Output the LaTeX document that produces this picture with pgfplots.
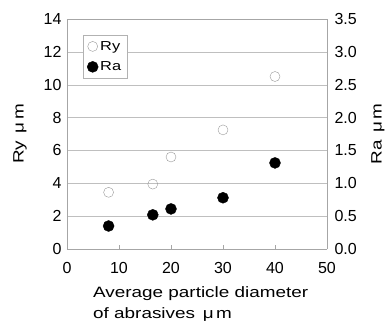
\documentclass[border=0pt]{standalone}
\usepackage{fontspec}
\setmainfont{Liberation Sans}
\newfontfamily\wide[FakeStretch=1.26]{Liberation Sans}
\usepackage{pgfplots}
\pgfplotsset{compat=1.18}
\begin{document}
\begin{tikzpicture}[x=1pt,y=1pt]
\pgfplotsset{
  every axis/.append style={
    scale only axis, width=260pt, height=230pt,
    at={(0,0)}, anchor=south west,
    font=\fontsize{16}{18}\selectfont,
    /pgf/number format/assume math mode=true,
    xmin=0, xmax=50, xtick={0,10,...,50},
    axis line style={gray!70},
    tick style={gray!70},
  }
}
\begin{axis}[
  ymin=0, ymax=14, ytick={0,2,...,14},
  axis x line*=bottom, axis y line*=left,
  ymajorgrids, grid style={gray!50},
  xtick align=inside, major tick length=4pt,
  ytick style={draw=none},
  xticklabel style={yshift=-10pt},
  yticklabel style={xshift=-2pt},
  xlabel={Average particle diameter\\of abrasives \,μ\,m},
  xlabel style={align=left, anchor=north west, at={(axis description cs:0.1,0)}, yshift=-37pt,
    font=\wide\fontsize{15}{21}\selectfont, inner sep=0pt},
  ylabel={Ry \,μ\,m},
  ylabel style={at={(axis description cs:-0.181,0.5)}, anchor=center, font=\wide\fontsize{15}{18}\selectfont},
  legend style={at={(16pt,214pt)}, anchor=north west, draw=gray!60,
    font=\wide\fontsize{13}{15}\selectfont, row sep=6pt, inner sep=4pt},
  legend cell align=left,
]
\addplot[only marks, mark=o, mark size=5pt, draw=gray!80, thin] coordinates {
 (8,3.45) (16.5,3.95) (20,5.6) (30,7.25) (40,10.5)};
\addlegendentry{Ry}
\addlegendimage{only marks, mark=*, mark size=5.5pt, black}
\addlegendentry{Ra}
\draw[gray!70] (axis cs:50,0) -- (axis cs:50,14);
\draw[gray!70] (axis cs:0,14) -- (axis cs:50,14);
\end{axis}
\begin{axis}[
  ymin=0, ymax=3.5, ytick={0,0.5,...,3.5},
  axis x line=none, axis y line*=right,
  ytick style={draw=none},
  yticklabel style={/pgf/number format/fixed, /pgf/number format/fixed zerofill, /pgf/number format/precision=1, xshift=4pt},
  ylabel={Ra \,μ\,m},
  ylabel style={at={(axis description cs:1.196,0.5)}, anchor=center, font=\wide\fontsize{15}{18}\selectfont},
]
\addplot[only marks, mark=*, mark size=5.5pt, black] coordinates {
 (8,0.35) (16.5,0.52) (20,0.61) (30,0.78) (40,1.31)};
\end{axis}
\pgfresetboundingbox
\path (-67pt,-80pt) rectangle (321pt,249pt);
\end{tikzpicture}
\end{document}
